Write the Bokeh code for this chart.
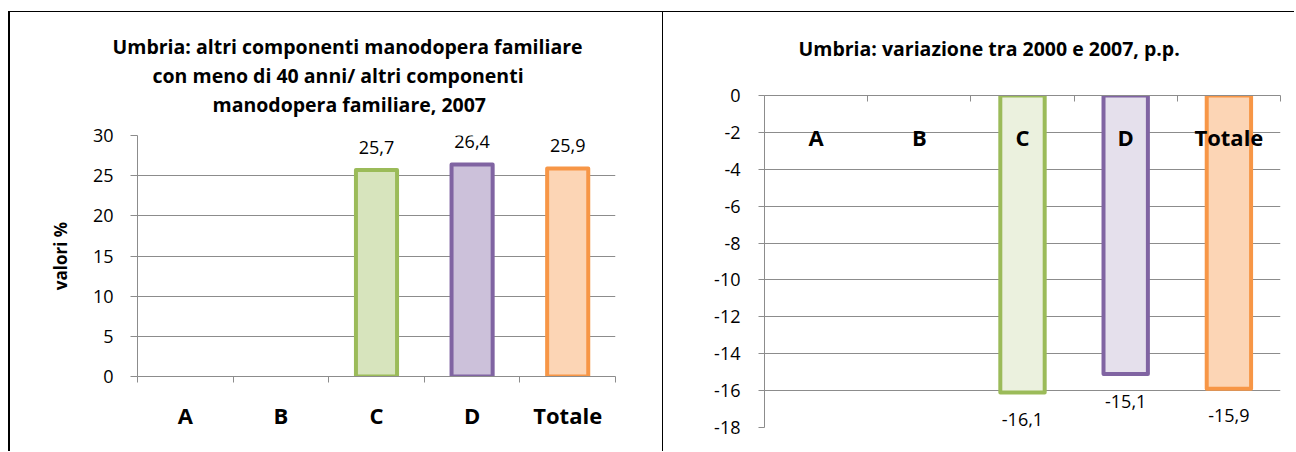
from bokeh.plotting import figure
from bokeh.layouts import row
from bokeh.models import ColumnDataSource, FixedTicker, Range1d, LabelSet, Title, LinearAxis
from bokeh.embed import file_html
from bokeh.resources import INLINE
from bokeh.core.properties import value

# ---------------- data ----------------
categories = ["A", "B", "C", "D", "Totale"]
share_2007 = [None, None, 25.7, 26.4, 25.9]          # valori %
change_2000_2007 = [None, None, -16.1, -15.1, -15.9]  # p.p.
left_ticks = [0, 5, 10, 15, 20, 25, 30]
right_ticks = [-18, -16, -14, -12, -10, -8, -6, -4, -2, 0]
left_title = ["Umbria: altri componenti manodopera familiare",
              "con meno di 40 anni/ altri componenti",
              "manodopera familiare, 2007"]
right_title = "Umbria: variazione tra 2000 e 2007, p.p."

fill_2007 = [None, None, "#D7E4BD", "#CCC1DA", "#FCD5B5"]
fill_change = [None, None, "#EBF1DE", "#E5E0EC", "#FCD5B5"]
line_colors = [None, None, "#9BBB59", "#8064A2", "#F79646"]

FONT = "Open Sans"
GRID = "#8C8C8C"

centers = [i + 0.5 for i in range(len(categories))]
bounds = [i for i in range(len(categories) + 1)]
mid = centers[len(centers) // 2]


def fmt(v):
    return f"{v:.1f}".replace(".", ",")


def bar_source(vals, fills):
    d = dict(x=[], v=[], fill=[], line=[], lbl=[])
    for c, v, f, l in zip(centers, vals, fills, line_colors):
        if v is None:
            continue
        d["x"].append(c)
        d["v"].append(v)
        d["fill"].append(f)
        d["line"].append(l)
        d["lbl"].append(fmt(v))
    return ColumnDataSource(d)


def style_common(p):
    p.frame_align = False
    p.outline_line_color = None
    p.xgrid.visible = False
    p.ygrid.grid_line_color = GRID
    p.ygrid.grid_line_width = 1
    p.yaxis.axis_line_color = GRID
    p.yaxis.major_tick_line_color = GRID
    p.yaxis.major_tick_in = 0
    p.yaxis.minor_tick_line_color = None
    p.yaxis.major_label_text_font = FONT
    p.yaxis.major_label_text_font_size = "18px"
    p.yaxis.major_label_text_color = "#000000"
    p.xaxis.axis_line_color = GRID
    p.xaxis.major_tick_line_color = None
    p.xaxis.minor_tick_line_color = GRID
    p.xaxis.major_tick_out = 0
    p.xaxis.major_tick_in = 0


def title_line(text, offset, standoff=0):
    return Title(text=text, align="left", offset=offset, standoff=standoff,
                 text_font=FONT, text_font_size="19.5px", text_font_style="bold",
                 text_color="#000000")


# ---------------- left chart ----------------
p1 = figure(width=654, height=440, x_range=Range1d(0, 5), y_range=Range1d(0, 30),
            output_backend="svg", toolbar_location=None,
            min_border_left=127, min_border_right=49, min_border_top=123, min_border_bottom=76)
style_common(p1)
# invisible gap between the plot area and the title block (one hidden, unlabeled tick)
gap = LinearAxis(ticker=FixedTicker(ticks=[mid]), axis_line_color=None,
                 major_tick_line_color=None, minor_tick_line_color=None,
                 major_tick_out=18, major_tick_in=0, major_label_standoff=0,
                 major_label_overrides={mid: ""})
p1.add_layout(gap, "above")
# lines are stacked upward from the plot area: last line first
left_offsets = [-25, 15, 75]
for line, off in reversed(list(zip(left_title, left_offsets))):
    p1.add_layout(title_line(line, off), "above")
p1.yaxis.ticker = FixedTicker(ticks=left_ticks)
p1.ygrid.ticker = FixedTicker(ticks=left_ticks)
p1.yaxis.major_tick_out = 7
p1.yaxis.major_label_standoff = 17
p1.yaxis.axis_label = "valori %"
p1.yaxis.axis_label_text_font = FONT
p1.yaxis.axis_label_text_font_size = "17px"
p1.yaxis.axis_label_text_font_style = "bold"
p1.yaxis.axis_label_text_color = "#000000"
p1.yaxis.axis_label_standoff = 18
xax = p1.below[0]
xax.ticker = FixedTicker(ticks=centers, minor_ticks=bounds)
xax.minor_tick_out = 6
xax.minor_tick_in = 0
xax.major_label_overrides = {c: n for c, n in zip(centers, categories)}
xax.major_label_text_font = FONT
xax.major_label_text_font_size = "22px"
xax.major_label_text_font_style = "bold"
xax.major_label_text_color = "#000000"
xax.major_label_standoff = 17

src1 = bar_source(share_2007, fill_2007)
p1.vbar(x="x", top="v", bottom=0, width=0.43, fill_color="fill", line_color="line",
        line_width=4, line_join="round", source=src1)
p1.add_layout(LabelSet(x="x", y="v", text="lbl", y_offset=23, text_align="center",
                       text_baseline="middle", text_font=value(FONT), text_font_size="18px",
                       text_color="#000000", source=src1))
p1.styles = {"border-top": "1px solid black", "border-left": "2px solid black"}

# ---------------- right chart ----------------
p2 = figure(width=632, height=440, x_range=Range1d(0, 5), y_range=Range1d(-18, 0),
            x_axis_location="above", output_backend="svg", toolbar_location=None,
            min_border_left=101, min_border_right=15, min_border_top=83, min_border_bottom=25)
style_common(p2)
p2.xaxis.ticker = FixedTicker(ticks=[mid], minor_ticks=bounds)
p2.xaxis.major_label_overrides = {mid: ""}
p2.xaxis.minor_tick_out = 0
p2.xaxis.minor_tick_in = 6
p2.xaxis.major_tick_out = 20
p2.xaxis.major_label_standoff = 0
p2.add_layout(title_line(right_title, 34, 28), "above")
p2.yaxis.ticker = FixedTicker(ticks=right_ticks)
p2.ygrid.ticker = FixedTicker(ticks=right_ticks)
p2.yaxis.major_label_overrides = {t: str(t) for t in right_ticks}
p2.yaxis.major_tick_out = 6
p2.yaxis.major_label_standoff = 18

src2 = bar_source(change_2000_2007, fill_change)
p2.vbar(x="x", top=0, bottom="v", width=0.43, fill_color="fill", line_color="line",
        line_width=4, line_join="round", source=src2)
p2.add_layout(LabelSet(x="x", y="v", text="lbl", y_offset=-27, text_align="center",
                       text_baseline="middle", text_font=value(FONT), text_font_size="18px",
                       text_color="#000000", source=src2))
cat_src = ColumnDataSource(dict(x=centers, y=[0] * len(categories), t=categories))
p2.add_layout(LabelSet(x="x", y="y", text="t", y_offset=-41, text_align="center",
                       text_baseline="middle", text_font=value(FONT), text_font_size="22px",
                       text_font_style="bold", text_color="#000000", source=cat_src))
p2.styles = {"border-top": "1px solid black", "border-left": "1px solid black"}

layout = row(p1, p2, margin=(11, 0, 0, 8))
open("out.html", "w").write(file_html(layout, INLINE))
